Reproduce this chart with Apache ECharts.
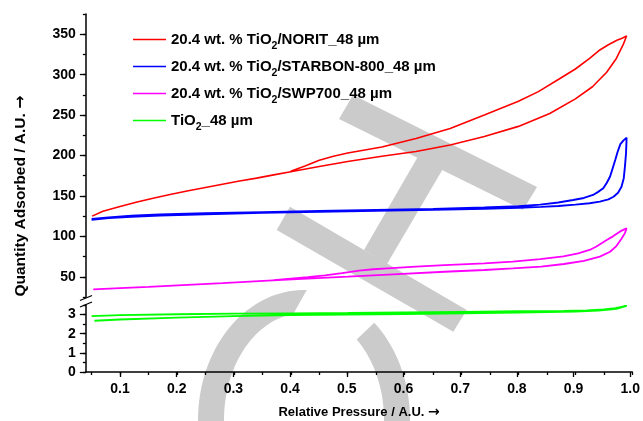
<!DOCTYPE html>
<html>
<head>
<meta charset="utf-8">
<script src="https://cdn.jsdelivr.net/npm/echarts@6/dist/echarts.min.js"></script>
<style>
  html, body { margin: 0; padding: 0; background: #fff; }
  #chart { width: 643px; height: 421px; }
</style>
</head>
<body>
<div id="chart"></div>
<script>
// ---- Isotherm data: relative pressure (P) vs quantity adsorbed (Q) ----
// NORIT support
const noritAdsP = [0.051, 0.07, 0.10, 0.13, 0.16, 0.19, 0.22, 0.25, 0.28, 0.31, 0.34, 0.37, 0.40, 0.45, 0.50, 0.56, 0.62, 0.68, 0.74, 0.80, 0.855, 0.90, 0.93, 0.955, 0.972, 0.984, 0.990];
const noritAdsQ = [125, 131, 137, 142.5, 147.5, 152, 156.5, 160.5, 164.5, 168.5, 172, 176, 180, 186.5, 192.5, 199, 205, 213, 223.5, 236, 252, 270, 285, 303, 320, 337, 348];
const noritDesP = [0.990, 0.982, 0.973, 0.958, 0.943, 0.925, 0.90, 0.87, 0.835, 0.80, 0.74, 0.68, 0.62, 0.56, 0.50, 0.475, 0.45, 0.425, 0.40];
const noritDesQ = [348, 345, 342.5, 337, 330.5, 320, 307, 294, 279, 267, 250, 233.5, 221, 210.5, 203, 199, 194, 187, 180.5];

// STARBON-800 support
const starbonAdsP = [0.050, 0.08, 0.12, 0.17, 0.25, 0.35, 0.45, 0.55, 0.65, 0.74, 0.80, 0.84, 0.87, 0.90, 0.925, 0.943, 0.958, 0.967, 0.975, 0.981, 0.985, 0.987, 0.989, 0.990];
const starbonAdsQ = [120.5, 122.5, 124.3, 125.8, 127.4, 129, 130.3, 131.6, 132.8, 134.2, 135.3, 136.5, 137.6, 139.2, 141, 143, 145.8, 149, 154, 161.4, 172, 186, 203, 222];
const starbonDesP = [0.990, 0.985, 0.979, 0.974, 0.970, 0.965, 0.961, 0.955, 0.949, 0.940, 0.931, 0.915, 0.896, 0.87, 0.838, 0.80, 0.74, 0.65, 0.55, 0.45, 0.35, 0.25, 0.17, 0.12, 0.08, 0.05];
const starbonDesQ = [222, 219, 214, 204, 194.4, 183, 174, 166, 159.4, 155, 151.2, 147.5, 145, 141.8, 139.2, 137.3, 135.6, 134, 132.7, 131.4, 130, 128.5, 127, 125.5, 123.5, 121.5];

// SWP700 support
const swpAdsP = [0.053, 0.10, 0.15, 0.21, 0.28, 0.36, 0.42, 0.50, 0.58, 0.67, 0.74, 0.79, 0.84, 0.88, 0.915, 0.943, 0.961, 0.972, 0.981, 0.987, 0.990];
const swpAdsQ = [34.5, 36, 37.6, 39.7, 42.2, 45.2, 47.4, 50.1, 53, 56.2, 58.4, 60.4, 62.5, 65.8, 69.8, 74.9, 81, 88, 97, 104, 110];
const swpDesP = [0.990, 0.984, 0.978, 0.966, 0.955, 0.937, 0.926, 0.905, 0.879, 0.838, 0.79, 0.74, 0.67, 0.62, 0.57, 0.545, 0.52, 0.49, 0.46, 0.43, 0.40, 0.37];
const swpDesQ = [110, 108, 105.8, 100, 95.5, 87.5, 83.5, 79, 75.2, 71.8, 68.8, 66.7, 64.5, 62.5, 60.5, 59.3, 57.5, 54.5, 51.8, 49.6, 47.8, 45.8];

// Bare TiO2
const tio2AdsP = [0.055, 0.1, 0.2, 0.3, 0.4, 0.5, 0.6, 0.7, 0.8, 0.85, 0.9, 0.94, 0.96, 0.975, 0.99];
const tio2AdsQ = [2.68, 2.74, 2.84, 2.92, 2.97, 3.0, 3.03, 3.07, 3.11, 3.13, 3.16, 3.21, 3.26, 3.32, 3.45];
const tio2DesP = [0.99, 0.97, 0.95, 0.92, 0.88, 0.8, 0.7, 0.6, 0.5, 0.4, 0.3, 0.2, 0.1, 0.05];
const tio2DesQ = [3.45, 3.33, 3.27, 3.22, 3.19, 3.17, 3.14, 3.11, 3.08, 3.06, 3.05, 3.02, 2.97, 2.92];

const seriesNames = [
  '20.4 wt. % TiO2/NORIT_48 µm',
  '20.4 wt. % TiO2/STARBON-800_48 µm',
  '20.4 wt. % TiO2/SWP700_48 µm',
  'TiO2_48 µm'
];
const seriesColors = ['#ff0000', '#0000ff', '#ff00ff', '#00ff00'];

// ---- Axis ranges ----
const xMin = 0.04, xMax = 1.0;
const upperMin = 25, upperMax = 375;   // upper segment of the broken y axis
const lowerMin = 0, lowerMax = 3.5;    // lower segment

// ---- Layout (pixels) ----
const X0 = 63.1;          // pixel of P = 0
const XS = 569.2;         // pixels per unit of P
const RIGHT = 643 - (X0 + XS * xMax);
const UP_TOP = 14, UP_H = 283;
const LO_TOP = 305, LO_H = 67;
const UYS = UP_H / (upperMax - upperMin);
const LYS = LO_H / (lowerMax - lowerMin);
const FONT = '"Liberation Sans", Arial, Helvetica, sans-serif';
const ARROW_FONT = '"DejaVu Sans", sans-serif';

function loop(ap, aq, dp, dq) {
  const pts = ap.map((p, i) => [p, aq[i]]);
  return pts.concat(dp.map((p, i) => [p, dq[i]]));
}

// Background mark drawn as light grey shapes
function ringPiece(cx, cy, rxO, ryO, rxI, ryI, o0, o1, i0, i1) {
  const pts = [];
  const n = 40;
  for (let k = 0; k <= n; k++) {
    const t = (o0 + (o1 - o0) * k / n) * Math.PI / 180;
    pts.push([cx + rxO * Math.cos(t), cy - ryO * Math.sin(t)]);
  }
  for (let k = 0; k <= n; k++) {
    const t = (i0 + (i1 - i0) * k / n) * Math.PI / 180;
    pts.push([cx + rxI * Math.cos(t), cy - ryI * Math.sin(t)]);
  }
  return pts;
}
const markFill = '#cbcbcb';
const markShapes = [
  ringPiece(304, 420, 106, 130, 80, 107, 186, 88.5, 97.7, 186),
  ringPiece(304, 420, 106, 130, 80, 107, 48.5, -6, -6, 48.8),
  [[353, 95], [537, 187], [523, 210], [339, 119]],
  [[290, 206.7], [466.7, 310], [453.3, 331.7], [276.7, 230]],
  [[420, 153], [444, 167], [387, 264], [364, 250]]
];

const axisColor = '#000';
const labelStyle = { fontFamily: FONT, fontSize: 14, fontWeight: 'bold', color: '#000' };
const hiddenY = { type: 'value', min: 0, max: 1, show: false };

const chart = echarts.init(document.getElementById('chart'), null, { renderer: 'canvas' });

chart.setOption({
  animation: false,
  backgroundColor: '#fff',
  grid: [
    // 0: upper data segment
    { left: X0 + XS * xMin, right: RIGHT, top: UP_TOP, height: UP_H },
    // 1: upper labelled ticks (50..350)
    { left: X0 + XS * xMin, right: RIGHT, top: UP_TOP + (upperMax - 350) * UYS, height: 300 * UYS },
    // 2: lower data segment
    { left: X0 + XS * xMin, right: RIGHT, top: LO_TOP, height: LO_H },
    // 3: lower labelled ticks (0..3)
    { left: X0 + XS * xMin, right: RIGHT, top: LO_TOP + (lowerMax - 3) * LYS, height: 3 * LYS },
    // 4: x minor ticks (every 0.05)
    { left: X0 + XS * 0.05, right: RIGHT, top: LO_TOP, height: LO_H },
    // 5: x labelled ticks (every 0.1)
    { left: X0 + XS * 0.1, right: RIGHT, top: LO_TOP, height: LO_H }
  ],
  xAxis: [
    { gridIndex: 0, type: 'value', min: xMin, max: xMax, show: false },
    { gridIndex: 1, type: 'value', min: xMin, max: xMax, show: false },
    {
      gridIndex: 2, type: 'value', min: xMin, max: xMax,
      axisLine: { show: true, lineStyle: { color: axisColor, width: 1.5 } },
      axisTick: { show: false }, axisLabel: { show: false }, splitLine: { show: false },
      name: 'Relative Pressure / A.U. {a|→}', nameLocation: 'middle', nameGap: 33,
      nameTextStyle: {
        fontFamily: FONT, fontSize: 13, fontWeight: 'bold', color: '#000',
        rich: { a: { fontFamily: ARROW_FONT, fontSize: 14, fontWeight: 'bold', color: '#000' } }
      }
    },
    { gridIndex: 3, type: 'value', min: xMin, max: xMax, show: false },
    {
      gridIndex: 4, type: 'value', min: 0.05, max: xMax, interval: 0.05,
      axisLine: { show: false },
      axisTick: { show: true, length: 3, lineStyle: { color: axisColor, width: 1.3 } },
      axisLabel: { show: false }, splitLine: { show: false }
    },
    {
      gridIndex: 5, type: 'value', min: 0.1, max: xMax, interval: 0.1,
      axisLine: { show: false },
      axisTick: { show: true, length: 5, lineStyle: { color: axisColor, width: 1.3 } },
      axisLabel: Object.assign({ margin: 10, formatter: v => v.toFixed(1) }, labelStyle),
      splitLine: { show: false }
    }
  ],
  yAxis: [
    {
      gridIndex: 0, type: 'value', min: upperMin, max: upperMax, interval: 25,
      axisLine: { show: true, lineStyle: { color: axisColor, width: 1.5 } },
      axisTick: { show: true, length: 3, lineStyle: { color: axisColor, width: 1.3 } },
      axisLabel: { show: false }, splitLine: { show: false }
    },
    {
      gridIndex: 1, type: 'value', min: 50, max: 350, interval: 50,
      axisLine: { show: false },
      axisTick: { show: true, length: 6, lineStyle: { color: axisColor, width: 1.3 } },
      axisLabel: Object.assign({ margin: 10 }, labelStyle),
      splitLine: { show: false }
    },
    {
      gridIndex: 2, type: 'value', min: lowerMin, max: lowerMax, interval: 0.5,
      axisLine: { show: true, lineStyle: { color: axisColor, width: 1.5 } },
      axisTick: { show: true, length: 3, lineStyle: { color: axisColor, width: 1.3 } },
      axisLabel: { show: false }, splitLine: { show: false }
    },
    {
      gridIndex: 3, type: 'value', min: 0, max: 3, interval: 1,
      axisLine: { show: false },
      axisTick: { show: true, length: 6, lineStyle: { color: axisColor, width: 1.3 } },
      axisLabel: Object.assign({ margin: 10 }, labelStyle),
      splitLine: { show: false }
    },
    Object.assign({ gridIndex: 4 }, hiddenY),
    Object.assign({ gridIndex: 5 }, hiddenY)
  ],
  legend: {
    orient: 'vertical', left: 133, top: 27.5, padding: 0,
    icon: 'rect', itemWidth: 33, itemHeight: 1.5, itemGap: 3,
    data: seriesNames,
    formatter: name => name.replace('TiO2', 'TiO{sub|2}'),
    textStyle: {
      fontFamily: FONT, fontSize: 15, fontWeight: 'bold', color: '#000', lineHeight: 24,
      rich: { sub: { fontFamily: FONT, fontSize: 10.5, fontWeight: 'bold', color: '#000', verticalAlign: 'bottom', lineHeight: 24 } }
    }
  },
  graphic: [
    ...markShapes.map(pts => ({
      type: 'polygon', silent: true, z: -10,
      shape: { points: pts },
      style: { fill: markFill }
    })),
    // axis break marks
    { type: 'line', silent: true, z: 20, shape: { x1: 80, y1: 300.5, x2: 92, y2: 295.5 }, style: { stroke: '#000', lineWidth: 1.3 } },
    { type: 'line', silent: true, z: 20, shape: { x1: 80, y1: 307, x2: 92, y2: 302 }, style: { stroke: '#000', lineWidth: 1.3 } },
    {
      type: 'text', silent: true, z: 20, x: 20.5, y: 196, rotation: Math.PI / 2,
      style: {
        text: 'Quantity Adsorbed / A.U. {a|→}', fill: '#000',
        font: 'bold 15.5px ' + FONT, align: 'center', verticalAlign: 'middle',
        rich: { a: { fontFamily: ARROW_FONT, fontSize: 16, fontWeight: 'bold', fill: '#000' } }
      }
    }
  ],
  series: [
    { name: seriesNames[0], data: loop(noritAdsP, noritAdsQ, noritDesP, noritDesQ), xAxisIndex: 0, yAxisIndex: 0, width: 1.6 },
    { name: seriesNames[1], data: loop(starbonAdsP, starbonAdsQ, starbonDesP, starbonDesQ), xAxisIndex: 0, yAxisIndex: 0, width: 1.9 },
    { name: seriesNames[2], data: loop(swpAdsP, swpAdsQ, swpDesP, swpDesQ), xAxisIndex: 0, yAxisIndex: 0, width: 1.8 },
    { name: seriesNames[3], data: loop(tio2AdsP, tio2AdsQ, tio2DesP, tio2DesQ), xAxisIndex: 2, yAxisIndex: 2, width: 1.9 }
  ].map((s, i) => ({
    type: 'line', name: s.name, data: s.data,
    xAxisIndex: s.xAxisIndex, yAxisIndex: s.yAxisIndex,
    symbol: 'none', showSymbol: false, smooth: false,
    color: seriesColors[i],
    lineStyle: { color: seriesColors[i], width: s.width },
    z: 5
  }))
});
</script>
</body>
</html>
